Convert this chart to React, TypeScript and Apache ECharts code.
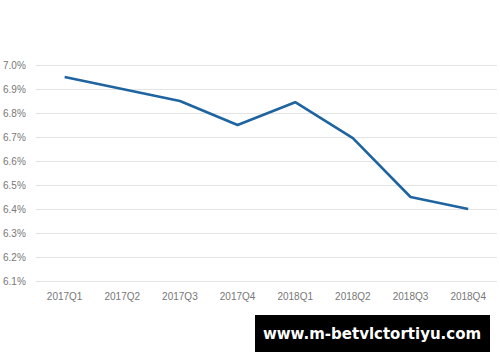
import React, { useEffect, useRef } from "react";
import * as echarts from "echarts";

const categories = ["2017Q1", "2017Q2", "2017Q3", "2017Q4", "2018Q1", "2018Q2", "2018Q3", "2018Q4"];
const values = [6.95, 6.9, 6.85, 6.75, 6.845, 6.695, 6.45, 6.4];
const yMin = 6.1;
const yMax = 7.0;
const yInterval = 0.1;
const watermark = "www.m-betvlctortiyu.com";

export default function App() {
  const ref = useRef<HTMLDivElement>(null);
  useEffect(() => {
    if (!ref.current) return;
    const chart = echarts.init(ref.current, undefined, { renderer: "svg" });
    chart.setOption({
      animation: false,
      backgroundColor: "#ffffff",
      grid: { left: 34, right: 3, top: 65, bottom: 81 },
      xAxis: {
        type: "category",
        data: categories,
        boundaryGap: true,
        axisLine: { show: false },
        axisTick: { show: false },
        axisLabel: { color: "#777", fontSize: 10, margin: 10, fontFamily: "Liberation Sans, Arial, sans-serif" },
      },
      yAxis: {
        type: "value",
        min: yMin,
        max: yMax,
        interval: yInterval,
        axisLine: { show: false },
        axisTick: { show: false },
        splitLine: { lineStyle: { color: "#e4e4e4", width: 1 } },
        axisLabel: {
          color: "#777",
          fontSize: 10,
          margin: 10,
          fontFamily: "Liberation Sans, Arial, sans-serif",
          formatter: (v: number) => v.toFixed(1) + "%",
        },
      },
      series: [
        {
          type: "line",
          data: values,
          symbol: "none",
          lineStyle: { color: "#1e64a0", width: 2.6 },
        },
      ],
      graphic: [
        {
          type: "rect",
          left: 255,
          top: 315,
          shape: { width: 235, height: 37 },
          style: { fill: "#000" },
        },
        {
          type: "text",
          x: 372,
          y: 334,
          style: {
            text: watermark,
            fill: "#fff",
            align: "center",
            verticalAlign: "middle",
            font: "bold 15px 'DejaVu Sans', sans-serif",
          },
        },
      ],
    });
    return () => chart.dispose();
  }, []);
  return <div ref={ref} style={{ position: "fixed", left: 0, top: 0, width: 500, height: 362 }} />;
}
